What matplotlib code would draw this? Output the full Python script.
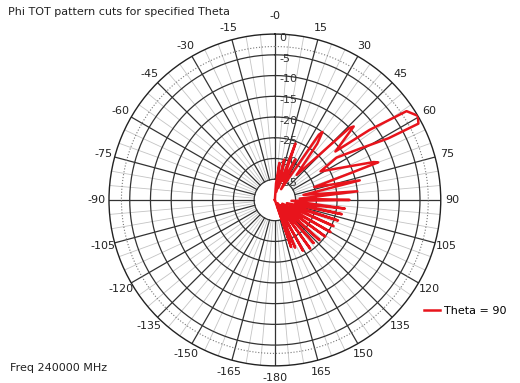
import numpy as np
import matplotlib.pyplot as plt

# Phi cut at Theta = 90, values in dB (-40 = centre)
phi_deg = [-180, 0, 4, 7, 10, 13, 16, 20, 23, 27, 30, 34, 35, 37, 41,
           46, 47, 49, 51.3, 53.5, 56, 59.5, 62, 61.5, 59, 55.5, 58,
           69, 70, 72, 77, 80, 84, 87, 90, 93, 97, 100, 102, 105, 108,
           111, 114, 117, 120, 123, 126, 129, 132, 135, 138, 141, 144,
           147, 151, 154, 157, 159, 161, 165, 180]
gain_db = [-40, -40, -36, -31, -38, -30, -37, -25.5, -35, -29, -37, -21, -20,
           -23, -32,
           -15, -14, -18, -21.3, -11.6, -1.7, 0, -0.8, -8.8, -15.8, -22, -27,
           -14.5, -13.5, -30, -19, -33, -20, -34, -22, -36, -23, -35, -23.5,
           -37, -24, -36, -24.5, -38, -24.5, -37, -25, -38, -25.5, -38, -26,
           -39, -25.5, -39, -26, -39, -27.5, -38, -28, -40, -40]

ring_db = [-35, -30, -25, -20, -15, -10, -5, 0]
ring_labels = ["-35", "-30", "-25", "-20", "-15", "-10", "-5", "0"]
angle_ticks = list(range(-180, 181, 15))

rmin, rmax = -40, 0

fig = plt.figure(figsize=(5.2, 3.83), dpi=100)
ax = fig.add_axes([0.2096, 0.0444, 0.638, 0.867], projection='polar')
ax.set_theta_zero_location('N')
ax.set_theta_direction(-1)
ax.set_rlim(rmin, rmax)
ax.grid(False)
ax.set_xticks([])
ax.set_yticks([])
ax.spines['polar'].set_color('#222222')
ax.spines['polar'].set_linewidth(1.0)

# spokes: grey every 5 deg, dark every 15 deg, starting at the -35 ring
for a in range(0, 360, 5):
    t = np.deg2rad(a)
    if a % 15 == 0:
        ax.plot([t, t], [-35, 0], color='#333333', lw=0.9, zorder=1)
    else:
        ax.plot([t, t], [-35, 0], color='#c4c4c4', lw=0.6, zorder=0.5)

tt = np.linspace(0, 2 * np.pi, 400)
for r in ring_db[:-1]:
    ax.plot(tt, np.full_like(tt, r), color='#333333', lw=0.9, zorder=1)
ax.plot(tt, np.full_like(tt, -3), color='#777777', lw=0.8, ls=':', zorder=1)

# radial labels along the 0 deg spoke
for r, lab in zip(ring_db, ring_labels):
    ax.annotate(lab, xy=(0, r - 0.9), xytext=(3, 0), textcoords='offset points',
                ha='left', va='center', fontsize=8, color='#333333', zorder=3)

# angle labels outside the circle
for a in angle_ticks:
    if a == 180:
        continue
    lab = "-0" if a == 0 else str(a)
    rr = 4.3 if a == 0 else 2.9
    ax.text(np.deg2rad(a), rr, lab, ha='center', va='center', fontsize=8,
            color='#222222', clip_on=False)

phi = np.deg2rad(phi_deg)
line, = ax.plot(phi, gain_db, color='#e8141c', lw=1.8, zorder=4,
                label='Theta = 90')

fig.text(8 / 520, 1 - 12 / 383, "Phi TOT pattern cuts for specified Theta",
         ha='left', va='center', fontsize=8, color='#222222')
fig.text(10 / 520, 1 - 368 / 383, "Freq 240000 MHz",
         ha='left', va='center', fontsize=8, color='#222222')
fig.legend(handles=[line], loc='center left',
           bbox_to_anchor=(414 / 520, 1 - 311 / 383), frameon=False,
           fontsize=8, handlelength=1.4, handletextpad=0.4)

fig.savefig('out.png', dpi=100)
